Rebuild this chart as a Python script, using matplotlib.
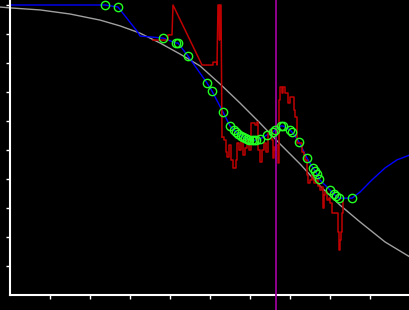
import numpy as np
import matplotlib
matplotlib.use("Agg")
import matplotlib.pyplot as plt

# model curve (grey)
model_x = [-10, 0, 30, 60, 90, 110, 130, 150, 170, 190, 210, 230, 250, 270, 290, 310, 330, 350, 375, 400]
model_y = [0.993, 0.990, 0.983, 0.969, 0.948, 0.928, 0.903, 0.869, 0.831, 0.790, 0.728, 0.662,
           0.593, 0.521, 0.452, 0.376, 0.310, 0.252, 0.183, 0.131]

# fitted track (blue)
track_x = [0, 95, 108, 127, 130, 153, 166, 168, 178, 197, 202, 213, 220, 224, 228, 233, 237, 242,
           246, 250, 257, 263, 265, 271, 273, 280, 282, 289, 297, 303, 305, 307, 309, 320, 324, 326,
           329, 342, 350, 362, 375, 387, 400]
track_y = [1.0, 1.0, 0.993, 0.910, 0.893, 0.886, 0.869, 0.869, 0.824, 0.731, 0.703, 0.631, 0.583,
           0.569, 0.555, 0.545, 0.538, 0.534, 0.534, 0.538, 0.552, 0.562, 0.569, 0.583, 0.583, 0.569,
           0.562, 0.528, 0.472, 0.438, 0.428, 0.417, 0.400, 0.362, 0.348, 0.341, 0.334, 0.334, 0.355,
           0.397, 0.438, 0.466, 0.483]

# observations (green circles)
obs_x = [95, 108, 153, 166, 168, 178, 197, 202, 213, 220, 224, 226, 228, 231, 233, 235, 237, 239,
         242, 244, 246, 250, 257, 263, 265, 271, 273, 280, 282, 289, 297, 303, 305, 307, 309, 320,
         324, 326, 329, 342]
obs_y = [1.0, 0.993, 0.886, 0.869, 0.869, 0.824, 0.731, 0.703, 0.631, 0.583, 0.569, 0.562, 0.555,
         0.549, 0.545, 0.541, 0.538, 0.536, 0.534, 0.534, 0.534, 0.538, 0.552, 0.562, 0.569, 0.583,
         0.583, 0.569, 0.562, 0.528, 0.472, 0.438, 0.428, 0.417, 0.400, 0.362, 0.348, 0.341, 0.334,
         0.334]

# raw signal (red)
raw_x = [143, 158, 158, 162, 163, 192, 203, 203, 207, 207, 208, 209, 209.5, 210, 211,
         212, 214, 216, 217, 219, 221, 223, 225, 226, 227, 229, 231, 233, 235, 237, 239, 241, 243,
         245, 247, 248, 250, 252, 254, 256, 258, 260, 262, 263, 264, 265, 266, 268, 269, 270, 272,
         273, 275, 277, 278, 280, 282, 284, 285, 287, 290, 292, 294, 295, 297, 298, 300, 302, 304,
         306, 308, 310, 312, 313, 314, 315, 317, 319, 320, 322, 327, 328, 329, 330, 331, 332, 333]
raw_y = [0.879, 0.879, 0.897, 0.897, 1.0, 0.793, 0.793, 0.803, 0.803, 0.793, 1.0, 1.0, 0.879, 1.0, 1.0,
         0.545, 0.534, 0.493, 0.476, 0.517, 0.466, 0.438, 0.438, 0.466, 0.524, 0.5, 0.534, 0.483,
         0.507, 0.534, 0.5, 0.593, 0.593, 0.586, 0.597, 0.5, 0.459, 0.5, 0.524, 0.493, 0.559, 0.569,
         0.534, 0.472, 0.510, 0.5, 0.517, 0.455, 0.672, 0.717, 0.697, 0.717, 0.697, 0.697, 0.662,
         0.683, 0.683, 0.638, 0.614, 0.524, 0.524, 0.493, 0.483, 0.466, 0.414, 0.386, 0.397, 0.414,
         0.386, 0.397, 0.376, 0.362, 0.372, 0.3, 0.345, 0.355, 0.328, 0.334, 0.317, 0.283, 0.283,
         0.217, 0.155, 0.190, 0.217, 0.283, 0.321]

event_x = 266

fig = plt.figure(figsize=(4.1, 3.1), dpi=100, facecolor="black")
ax = fig.add_axes([0, 0, 1, 1], facecolor="black")

ax.plot(model_x, model_y, color="#a0a0a0", lw=1.0, zorder=1)
ax.plot(track_x, track_y, color="#0000ff", lw=1.0, zorder=2)
ax.plot(raw_x[:16], raw_y[:16], color="#c00000", lw=1.1, zorder=3)
ax.plot(raw_x[15:], raw_y[15:], color="#c00000", lw=1.1, drawstyle="steps-post", zorder=3)
ax.axvline(event_x, color="#990099", lw=1.3, zorder=4)
ax.plot(obs_x, obs_y, "o", ms=6, mfc="none", mec="#22ff22", mew=1.0, zorder=5)

ax.set_xlim(-10, 400)
ax.set_ylim(-15 / 290, 295 / 290)
for s in ["top", "right"]:
    ax.spines[s].set_visible(False)
ax.spines["left"].set_position(("data", 0))
ax.spines["bottom"].set_position(("data", 0))
ax.spines["left"].set_bounds(0, 295 / 290)
ax.spines["bottom"].set_bounds(0, 400)
for s in ["left", "bottom"]:
    ax.spines[s].set_color("white")
    ax.spines[s].set_linewidth(1.5)
ax.set_xticks(np.arange(40, 401, 40))
ax.set_yticks(np.arange(0.1, 1.01, 0.1))
ax.tick_params(colors="white", direction="out", length=3, width=1,
               labelbottom=False, labelleft=False)

fig.savefig("out.png", dpi=100, facecolor="black")
